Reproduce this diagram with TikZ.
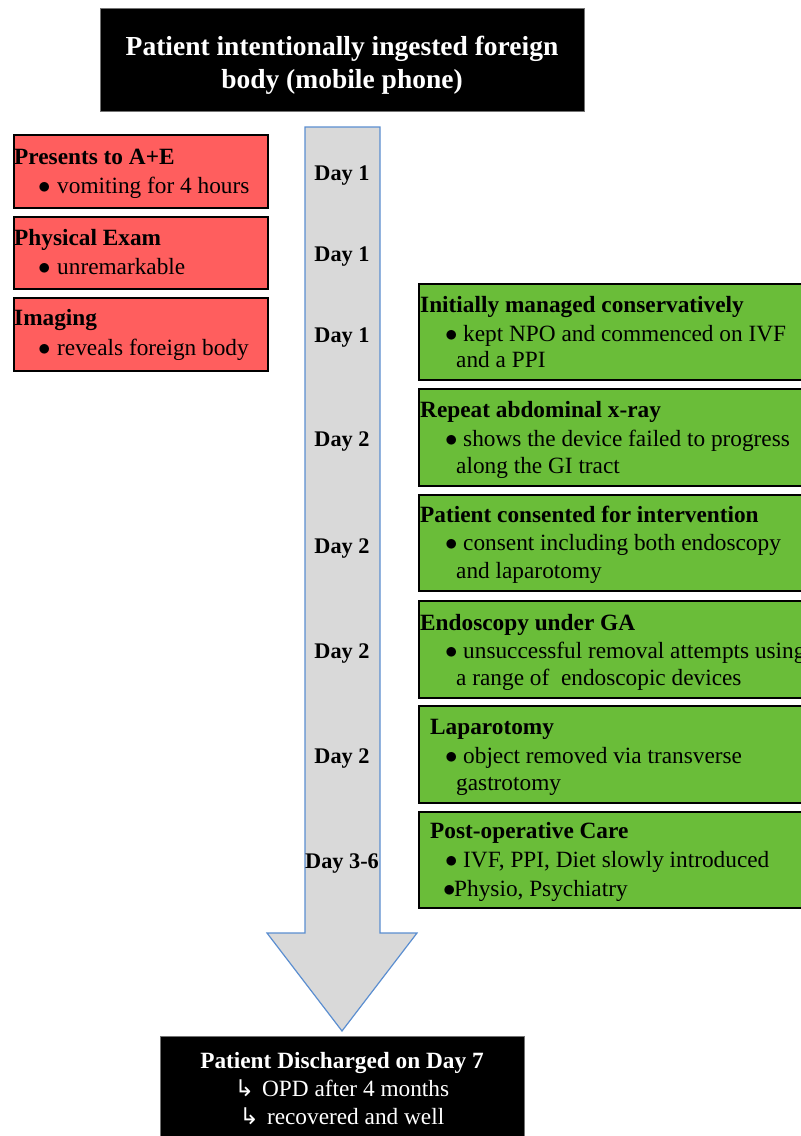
\documentclass[tikz,border=0pt]{standalone}
\usepackage{fontspec}
\setmainfont{Liberation Serif}
\newfontfamily\dejavu{DejaVu Sans}
\definecolor{redbox}{RGB}{255,94,94}
\definecolor{greenbox}{RGB}{106,189,57}
\definecolor{arrowfill}{RGB}{217,217,217}
\definecolor{arrowline}{RGB}{91,142,208}
\begin{document}
\begin{tikzpicture}[x=1pt,y=-1pt,
  txt/.style={anchor=base west, inner sep=0pt, font=\fontsize{23.3}{28}\selectfont},
  hd/.style={anchor=base west, inner sep=0pt, font=\fontsize{23.3}{28}\selectfont\bfseries},
  daylab/.style={anchor=base, inner sep=0pt, font=\fontsize{22.3}{26}\selectfont\bfseries},
  redb/.style={draw=black, line width=2pt, fill=redbox, anchor=north west, inner sep=0pt},
  greenb/.style={draw=black, line width=2pt, fill=greenbox, anchor=north west, inner sep=0pt},
  blackb/.style={draw=black!55, line width=0.8pt, fill=black, anchor=north west, inner sep=0pt},
  titletxt/.style={anchor=base, inner sep=0pt, text=white, font=\fontsize{27.5}{32}\selectfont\bfseries},
  endhd/.style={anchor=base, inner sep=0pt, text=white, font=\fontsize{23.3}{28}\selectfont\bfseries},
  endtxt/.style={anchor=base, inner sep=0pt, text=white, font=\fontsize{23.3}{28}\selectfont},
  bigarrow/.style={fill=arrowfill, draw=arrowline, line width=1.2pt, line join=miter}
]
\useasboundingbox (0,0) rectangle (801,1136);
\clip (0,0) rectangle (801,1136);
\newcommand{\bul}[1]{\makebox[#1][l]{$\bullet$}}
\newcommand{\hk}{{\dejavu\fontsize{23}{24}\selectfont ↳}}

% timeline arrow
\draw[bigarrow] (305,127) -- (380,127) -- (380,933) -- (417,933) -- (342,1031)
  -- (267,933) -- (305,933) -- cycle;

% top box
\node[blackb, minimum width=484, minimum height=103] (top) at (100,8) {};
\node[titletxt] (top1) at (342,55) {Patient intentionally ingested foreign};
\node[titletxt] (top2) at (342,88) {body (mobile phone)};

% red boxes
\node[redb, minimum width=254, minimum height=73] (r1) at (13,134) {};
\node[hd] (r1h) at (14,164) {Presents to A+E};
\node[txt] (r1t) at (38,193) {\bul{19pt}vomiting for 4 hours};

\node[redb, minimum width=254, minimum height=72] (r2) at (13,216) {};
\node[hd] (r2h) at (14,245) {Physical Exam};
\node[txt] (r2t) at (38,274) {\bul{19pt}unremarkable};

\node[redb, minimum width=254, minimum height=73] (r3) at (13,297) {};
\node[hd] (r3h) at (14,325) {Imaging};
\node[txt] (r3t) at (38,355) {\bul{19pt}reveals foreign body};

% day labels
\node[daylab] (d1) at (342,180) {Day 1};
\node[daylab] (d2) at (342,261) {Day 1};
\node[daylab] (d3) at (342,342) {Day 1};
\node[daylab] (d4) at (342,446) {Day 2};
\node[daylab] (d5) at (342,553) {Day 2};
\node[daylab] (d6) at (342,658) {Day 2};
\node[daylab] (d7) at (342,763) {Day 2};
\node[daylab] (d8) at (342,868) {Day 3-6};

% green boxes
\node[greenb, minimum width=400, minimum height=96] (g1) at (418,283) {};
\node[hd] (g1h) at (420,312) {Initially managed conservatively};
\node[txt] (g1a) at (445,341) {\bul{18pt}kept NPO and commenced on IVF};
\node[txt] (g1b) at (456,367) {and a PPI};

\node[greenb, minimum width=400, minimum height=97] (g2) at (418,388) {};
\node[hd] (g2h) at (420,417) {Repeat abdominal x-ray};
\node[txt] (g2a) at (445,446) {\bul{18pt}shows the device failed to progress};
\node[txt] (g2b) at (456,473) {along the GI tract};

\node[greenb, minimum width=400, minimum height=96] (g3) at (418,494) {};
\node[hd] (g3h) at (420,522) {Patient consented for intervention};
\node[txt] (g3a) at (445,550) {\bul{18pt}consent including both endoscopy};
\node[txt] (g3b) at (456,578) {and laparotomy};

\node[greenb, minimum width=400, minimum height=97] (g4) at (418,600) {};
\node[hd] (g4h) at (420,630) {Endoscopy under GA};
\node[txt] (g4a) at (445,658) {\bul{18pt}unsuccessful removal attempts using};
\node[txt] (g4b) at (456,685) {a range of \ endoscopic devices};

\node[greenb, minimum width=400, minimum height=97] (g5) at (418,705) {};
\node[hd] (g5h) at (430,734) {Laparotomy};
\node[txt] (g5a) at (445,763) {\bul{18pt}object removed via transverse};
\node[txt] (g5b) at (456,790) {gastrotomy};

\node[greenb, minimum width=400, minimum height=96] (g6) at (418,811) {};
\node[hd] (g6h) at (430,838) {Post-operative Care};
\node[txt] (g6a) at (445,867) {\bul{18pt}IVF, PPI, Diet slowly introduced};
\node[txt] (g6b) at (443,896) {\bul{11pt}Physio, Psychiatry};

% bottom box
\node[blackb, minimum width=364, minimum height=110] (bot) at (160,1036) {};
\node[endhd] (b1) at (342,1068) {Patient Discharged on Day 7};
\node[endtxt] (b2) at (342,1096) {\hk\hspace{8pt}OPD after 4 months};
\node[endtxt] (b3) at (342,1124) {\hk\hspace{8pt}recovered and well};
\end{tikzpicture}
\end{document}
